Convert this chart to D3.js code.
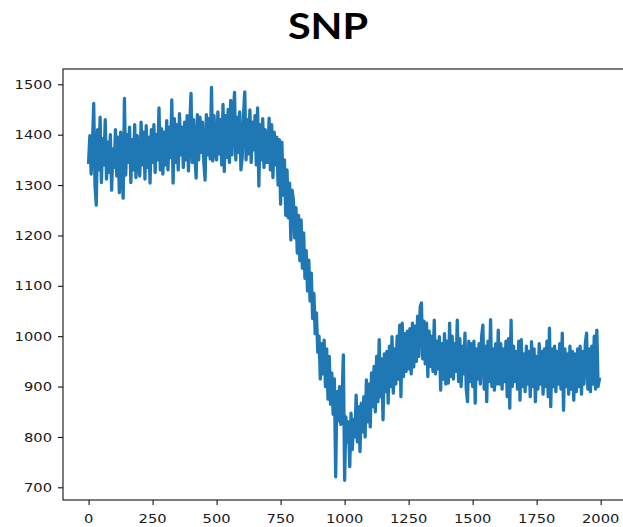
<!DOCTYPE html>
<html>
<head>
<meta charset="utf-8">
<script src="https://cdn.jsdelivr.net/npm/d3@7"></script>
<style>
  html, body { margin: 0; padding: 0; background: #fff; }
  svg { display: block; }
</style>
</head>
<body>
<svg id="chart" width="623" height="527"></svg>
<script>
// ---- data ----
const chartTitle = "SNP";
const sampleStep = 5; // one value every 5 time steps
const snpValues = [
  // 0-95
  1345,1398,1322,1380,1462,1300,1260,1410,1330,1435,1305,1392,1340,1430,1312,1385,1325,1400,1290,1372,
  // 100-195
  1335,1410,1318,1395,1285,1405,1330,1274,1472,1320,1400,1345,1415,1305,1390,1330,1420,1315,1398,1340,
  // 200-295
  1318,1425,1340,1405,1312,1418,1335,1395,1304,1410,1345,1420,1325,1400,1350,1453,1330,1412,1322,1405,
  // 300-395
  1340,1428,1330,1415,1355,1469,1304,1432,1345,1420,1330,1442,1360,1415,1335,1425,1350,1438,1328,1418,
  // 400-495
  1482,1345,1430,1360,1314,1440,1350,1435,1365,1425,1345,1310,1440,1360,1432,1352,1494,1348,1438,1365,
  // 500-595
  1350,1445,1362,1430,1340,1460,1327,1438,1355,1450,1345,1468,1360,1440,1484,1350,1435,1365,1445,1330,
  // 600-695
  1355,1440,1485,1350,1430,1362,1449,1345,1425,1370,1438,1340,1453,1298,1420,1350,1432,1335,1410,1345,
  // 700-795
  1345,1433,1330,1420,1315,1405,1340,1395,1300,1390,1262,1385,1280,1350,1240,1330,1235,1304,1191,1290,
  // 800-895
  1270,1195,1255,1165,1240,1150,1231,1135,1205,1115,1170,1090,1151,1070,1125,1035,1085,1005,1046,968,
  // 900-995
  1000,915,985,925,992,900,975,875,960,865,927,845,915,721,890,832,900,825,875,963,
  // 1000-1095
  714,840,790,830,741,847,775,835,800,883,790,860,771,867,810,880,800,913,830,905,
  // 1100-1195
  820,927,860,940,850,960,870,993,880,955,834,965,890,970,867,980,900,999,887,975,
  // 1200-1295
  905,1000,915,1022,880,1026,920,1005,930,1010,935,1015,925,1026,939,1020,950,1040,960,1058,
  // 1300-1395
  1066,955,1030,945,1026,920,1010,940,1000,930,1032,925,990,935,999,893,985,915,1005,905,
  // 1400-1495
  990,907,1026,920,1000,915,985,930,1032,910,995,900,980,925,1006,895,870,990,910,985,
  // 1500-1595
  900,990,867,975,915,985,905,1000,1022,895,980,870,990,910,1033,900,975,893,985,905,
  // 1600-1695
  1012,905,985,895,975,910,990,880,995,857,1032,900,980,910,970,895,990,873,993,900,
  // 1700-1795
  965,890,980,905,970,880,989,900,975,870,960,895,985,905,970,885,975,900,990,880,
  // 1800-1895
  1016,860,975,900,980,890,970,905,985,895,1006,853,975,900,965,885,980,895,970,873,
  // 1900-1995
  965,890,975,900,980,885,970,905,985,1006,895,975,890,980,905,1000,895,1012,900,915
];
const xTickValues = [0, 250, 500, 750, 1000, 1250, 1500, 1750, 2000];
const yTickValues = [700, 800, 900, 1000, 1100, 1200, 1300, 1400, 1500];

// ---- layout ----
const W = 623, H = 527;
const plot = { left: 63, top: 69, right: 626, bottom: 500 };
const stretch = 1.15; // horizontal stretch of the reference image text

const svg = d3.select("#chart");

const x = d3.scaleLinear().domain([-99.95, 2098.95]).range([plot.left, plot.right]);
const y = d3.scaleLinear().domain([674.8, 1530.4]).range([plot.bottom, plot.top]);

const points = snpValues.map((v, i) => ({ t: i * sampleStep, v }));

// line
svg.append("path")
  .datum(points)
  .attr("fill", "none")
  .attr("stroke", "#1f77b4")
  .attr("stroke-width", 3.3)
  .attr("stroke-linejoin", "round")
  .attr("stroke-linecap", "square")
  .attr("d", d3.line().x(d => x(d.t)).y(d => y(d.v)));

// frame
svg.append("rect")
  .attr("x", plot.left).attr("y", plot.top)
  .attr("width", plot.right - plot.left).attr("height", plot.bottom - plot.top)
  .attr("fill", "none").attr("stroke", "#111").attr("stroke-width", 1.1);

// y axis ticks
const yAxisG = svg.append("g").attr("transform", `translate(${plot.left},0)`)
  .call(d3.axisLeft(y).tickValues(yTickValues).tickSize(5).tickFormat(""));
yAxisG.select(".domain").remove();
yAxisG.selectAll(".tick line").attr("stroke", "#111").attr("stroke-width", 1.1);

svg.append("g").selectAll("text")
  .data(yTickValues).join("text")
  .attr("transform", d => `translate(52,${y(d)}) scale(${stretch},1)`)
  .attr("dy", "0.36em")
  .attr("text-anchor", "end")
  .attr("font-family", "DejaVu Sans")
  .attr("font-size", 12.8)
  .attr("fill", "#1a1a1a")
  .text(d => d);

// x axis ticks
const xAxisG = svg.append("g").attr("transform", `translate(0,${plot.bottom})`)
  .call(d3.axisBottom(x).tickValues(xTickValues).tickSize(5).tickFormat(""));
xAxisG.select(".domain").remove();
xAxisG.selectAll(".tick line").attr("stroke", "#111").attr("stroke-width", 1.1);

svg.append("g").selectAll("text")
  .data(xTickValues).join("text")
  .attr("transform", d => `translate(${x(d)},523) scale(${stretch},1)`)
  .attr("text-anchor", "middle")
  .attr("font-family", "DejaVu Sans")
  .attr("font-size", 12.8)
  .attr("fill", "#1a1a1a")
  .text(d => d);

// title
svg.append("text")
  .attr("transform", `translate(328,39) scale(${stretch},1)`)
  .attr("text-anchor", "middle")
  .attr("font-family", "Lato, 'Open Sans', sans-serif")
  .attr("font-weight", 700)
  .attr("font-size", 36)
  .attr("fill", "#000")
  .text(chartTitle);
</script>
</body>
</html>
